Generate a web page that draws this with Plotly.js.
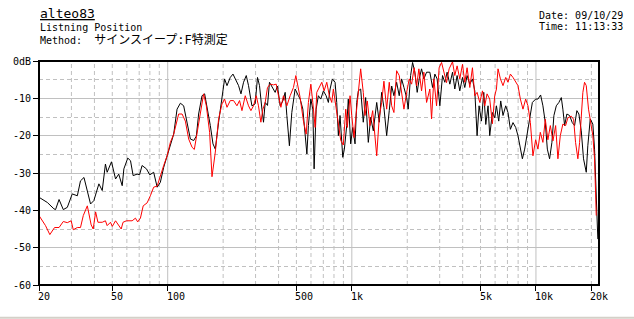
<!DOCTYPE html>
<html>
<head>
<meta charset="utf-8">
<script src="https://cdn.plot.ly/plotly-3.0.1.min.js"></script>
<style>
html,body{margin:0;padding:0;background:#fff;}
#chart{width:634px;height:319px;}
</style>
</head>
<body>
<div id="chart"></div>
<script>
// ---- data ----
const blackFreq = [20,22.2,24.1,24.6,25.7,27.1,28.5,30.3,32.3,33.6,35.1,38.1,39.7,42.3,44.1,45.9,46.9,49.5,52.1,54.2,56.6,57.8,60.7,62.8,64.9,68.2,70.3,72.6,76.7,79.9,83.9,85.7,87.7,91.2,95.1,99.3,103.4,
107.8,112.4,117.2,122.1,127.4,132.8,138.4,143.1,147.2,153.6,158.7,163.6,170.4,176.2,181.4,189.0,197.2,203.7,209.9,218.7,226.2,232.8,242.6,250.0,258.2,267.1,274.8,286.7,298.5,307.4,315.2,324.9,331.4,338.5,348.3,357.1,368.0,383.4,394.6,408.1,422.1,434.5,443.6,458.1,472.1,492.0,512.9,
524,542,558,570,581,599,614,624,640,658,678,701,725,746,762,784,811,828,845,863,893,911,938,957,986,1011,1041,1063,1085,1117,1154,1189,1229,1266,1308,1365,1409,1452,1494,1546,1597,1646,1693,1751,1809,1864,1919,1985,2024,2086,2138,2200,2265,2322,2392,2462,2547,
2653,2745,2825,2906,3006,3109,3200,3293,3406,3523,3625,3731,3858,3991,4107,4227,4373,4520,4654,4789,4911,5058,5206,5339,5494,5610,5802,5972,6101,6278,6437,6624,6852,7050,7264,7504,7762,7987,8230,8439,8685,8937,9245,9561,9963,10250,10600,10910,11240,11530,11860,12210,12520,12900,13320,13730,14000,14310,14720,15230,15750,16210,16680,17110,17620,18130,18760,19130,19720,20370,20810,21260,21680];
const blackDb = [-36.5,-37.9,-39.6,-39.8,-37.1,-39.8,-39.2,-35.6,-36.1,-32.1,-31.2,-38.3,-37.4,-32.9,-34.7,-27.6,-29.8,-27.0,-31.6,-30.3,-33.4,-28.9,-26.0,-26.7,-30.7,-30.3,-30.5,-28.0,-28.9,-30.5,-29.8,-31.6,-33.8,-32.5,-28.5,-25.4,-22.2,
-19.6,-12.9,-11.3,-12.0,-16.9,-20.9,-21.3,-20.1,-14.2,-9.3,-8.8,-12.0,-17.3,-22.2,-23.6,-16.4,-9.3,-4.8,-6.6,-4.4,-3.5,-4.8,-6.6,-8.8,-5.7,-3.9,-6.6,-12.0,-11.5,-4.4,-6.6,-12.9,-16.4,-11.1,-11.9,-5.7,-6.7,-8.4,-6.7,-12.0,-10.7,-8.4,-14.6,-22.7,-13.8,-7.5,-9.3,
-10.2,-12.9,-20.9,-24.9,-17.3,-10.2,-12.9,-28.9,-12.9,-9.3,-10.2,-8.0,-9.3,-11.1,-7.5,-4.8,-5.7,-11.1,-20.0,-14.6,-25.8,-23.6,-17.3,-10.2,-22.2,-17.8,-22.2,-11.1,-8.0,-7.5,-16.4,-9.8,-21.8,-15.1,-18.7,-11.1,-16.4,-8.4,-12.5,-20.0,-13.3,-6.7,-9.3,-5.7,-9.3,-4.8,-7.1,-9.8,-12.9,-3.9,-0.4,-3.0,-8.4,-4.8,-2.1,-4.8,-3.0,
-3.0,-7.1,-3.5,-4.8,-12.0,-3.9,-5.7,-3.0,-6.2,-3.0,-7.5,-3.9,-8.0,-4.4,-7.1,-3.9,-6.2,-4.8,-8.0,-20.0,-12.0,-16.1,-8.4,-17.0,-12.0,-20.0,-13.8,-15.2,-12.0,-16.1,-10.7,-14.6,-12.0,-13.8,-18.3,-16.5,-17.8,-20.0,-23.6,-26.2,-23.6,-19.6,-14.6,-11.1,-10.2,-10.2,-9.1,-12.0,-16.5,-23.6,-26.2,-21.8,-14.6,-12.0,-11.1,-9.8,-12.9,-17.3,-14.2,-14.6,-16.5,-17.3,-13.3,-14.2,-18.7,-26.2,-29.8,-22.7,-15.5,-16.9,-23.6,-35.2,-47.7];

const redFreq = [20,21.7,22.9,24.3,25.7,27.1,28.5,29.9,30.7,32.3,33.6,34.8,36.6,38.4,39.4,40.6,41.8,44.1,45.9,46.9,48.9,50.0,52.1,54.2,55.9,57.2,59.7,64.1,66.8,68.7,71.1,73.6,77.3,80.5,83.9,87.7,91.2,95.1,99.3,103.4,
107.8,114.7,119.7,124.7,130.0,135.6,139.5,144.3,151.7,156.7,162.1,168.9,174.0,177.5,181.4,189.0,197.2,203.7,209.9,218.7,227.9,237.7,245.6,253.1,263.7,274.8,283.1,292.4,302.6,311.2,320.6,328.9,338.5,348.3,360.3,375.4,388.4,399.6,411.8,425.4,443.6,462.4,481.9,496.5,512.9,
524,546,565,581,599,614,632,645,667,687,707,731,755,778,794,821,845,871,899,927,945,978,999,1028,1054,1085,1117,1154,1179,1213,1255,1298,1336,1365,1409,1452,1494,1546,1597,1646,1693,1751,1809,1864,1919,1985,2050,2112,2181,2248,2313,2392,2462,2547,
2653,2710,2790,2885,2980,3071,3160,3269,3377,3523,3625,3731,3858,3991,4107,4227,4373,4520,4654,4789,4953,5124,5272,5425,5610,5802,5972,6101,6223,6412,6624,6852,7050,7264,7504,7762,7987,8230,8502,8795,9051,9326,9632,9963,10250,10560,10910,11240,11610,11970,12370,12790,13160,13560,14000,14490,14910,15560,16010,16410,16890,17260,17620,17980,18360,18760,19300,19800,20370,20810,21260];
const redDb = [-41.4,-44.1,-46.5,-44.6,-44.6,-43.0,-43.3,-42.8,-45.2,-44.6,-44.6,-41.4,-38.8,-43.9,-45.0,-40.4,-43.2,-43.2,-42.8,-44.1,-43.2,-44.3,-42.8,-44.1,-45.0,-43.2,-42.8,-42.8,-42.1,-43.1,-42.1,-38.8,-38.0,-36.1,-33.8,-33.5,-30.7,-28.0,-25.4,-21.8,
-19.6,-14.2,-14.2,-16.1,-20.9,-23.1,-23.7,-19.1,-12.0,-8.8,-12.0,-19.1,-31.0,-27.6,-24.4,-15.5,-11.5,-10.2,-12.4,-10.6,-10.6,-12.0,-10.6,-13.3,-9.3,-12.0,-13.3,-12.0,-9.3,-12.0,-16.4,-12.9,-11.1,-7.1,-6.2,-6.4,-6.2,-9.3,-12.4,-9.3,-12.0,-9.3,-7.1,-3.9,-7.5,
-9.8,-16.1,-19.6,-11.1,-6.2,-11.1,-17.8,-8.4,-7.1,-5.7,-8.0,-5.7,-9.3,-11.1,-7.5,-12.9,-17.8,-21.3,-22.5,-12.9,-17.8,-9.3,-14.6,-20.5,-14.6,-7.5,-2.1,-8.4,-14.6,-10.7,-17.3,-13.3,-20.0,-25.4,-15.1,-11.1,-5.4,-12.9,-5.7,-12.0,-13.8,-2.6,-3.9,-9.3,-12.9,-8.4,-4.8,-6.2,-1.8,-6.7,-2.1,-8.0,-3.0,-11.1,
-7.5,-15.5,-4.8,-12.0,-1.8,-0.4,-2.6,-5.8,-2.1,-0.2,-3.9,-1.3,-4.8,-0.9,-5.7,-1.8,-7.1,-1.8,-9.3,-8.4,-11.1,-8.0,-12.0,-8.8,-10.2,-16.8,-9.3,-7.5,-2.1,-4.8,-6.6,-4.4,-5.7,-3.5,-4.4,-5.7,-6.6,-10.2,-12.9,-10.2,-12.0,-16.5,-25.4,-21.1,-23.6,-19.1,-21.8,-15.6,-21.1,-17.3,-21.4,-17.3,-26.2,-20.0,-16.9,-17.3,-15.2,-14.8,-15.6,-21.8,-26.2,-21.8,-13.8,-8.4,-5.7,-6.6,-12.9,-16.5,-20.0,-26.2,-41.4];

// ---- axes / labels ----
const xTickVals = [20,50,100,500,1000,5000,10000,20000];
const xTickText = ['20','50','100','500','1k','5k','10k','20k'];
const xSolidGrid = [100,1000,10000];
const xDashGrid = [30,40,50,60,70,80,90,200,300,400,500,600,700,800,900,2000,3000,4000,5000,6000,7000,8000,9000,20000];
const yTickVals = [-60,-50,-40,-30,-20,-10,0];
const yTickText = ['-60','-50','-40','-30','-20','-10','0dB'];
const yDashGrid = [-55,-45,-35,-25,-15,-5];
const xRange = [20, 22000];

const titleText = 'alteo83';
const subText1 = 'Listning Position';
const methodLabel = 'Method:  ';
const methodValue = 'サインスイープ:F特測定';
const dateText = 'Date: 09/10/29';
const timeText = 'Time: 11:13:33';

const FONT = 'DejaVu Sans Mono, Noto Sans CJK JP, monospace';
const GRID = '#c0c0c0';

const traces = [
  {x: blackFreq, y: blackDb, type: 'scatter', mode: 'lines', line: {color: '#000000', width: 1}, hoverinfo: 'skip'},
  {x: redFreq, y: redDb, type: 'scatter', mode: 'lines', line: {color: '#ff0000', width: 1}, hoverinfo: 'skip'}
];

const shapes = [];
xSolidGrid.forEach(v => shapes.push({type: 'line', xref: 'x', yref: 'paper', x0: v, x1: v, y0: 0, y1: 1, layer: 'below', line: {color: GRID, width: 1}}));
xDashGrid.forEach(v => shapes.push({type: 'line', xref: 'x', yref: 'paper', x0: v, x1: v, y0: 0, y1: 1, layer: 'below', line: {color: GRID, width: 1, dash: '4px,3px'}}));
shapes.push({type: 'rect', xref: 'paper', yref: 'paper', x0: 0, x1: 1, y0: 0, y1: 1, layer: 'above', line: {color: '#000', width: 2}});
shapes.push({type: 'line', xref: 'paper', yref: 'paper', x0: -0.08, x1: 1.07, y0: -0.1462, y1: -0.1462, layer: 'above', line: {color: '#d4d0c8', width: 2}});

const annotations = [];
xTickVals.forEach((v, i) => annotations.push({
  x: Math.log10(v), xref: 'x', y: 0, yref: 'paper', text: xTickText[i], showarrow: false,
  xanchor: 'left', yanchor: 'top', xshift: -3, yshift: -4, font: {family: FONT, size: 10, color: '#000'}
}));
annotations.push({x: 0, xref: 'paper', y: 1.214, yref: 'paper', text: titleText, showarrow: false, xanchor: 'left', yanchor: 'middle', xshift: -1,
  font: {family: FONT, size: 13, color: '#000', lineposition: 'under'}});
annotations.push({x: 0, xref: 'paper', y: 1.150, yref: 'paper', text: subText1, showarrow: false, xanchor: 'left', yanchor: 'middle', xshift: -1,
  font: {family: FONT, size: 10, color: '#000'}});
annotations.push({x: 0, xref: 'paper', y: 1.094, yref: 'paper',
  text: methodLabel + '<span style="font-size:12px">' + methodValue + '</span>', showarrow: false, xanchor: 'left', yanchor: 'middle', xshift: -1,
  font: {family: FONT, size: 10, color: '#000'}});
annotations.push({x: 0.8916, xref: 'paper', y: 1.205, yref: 'paper', text: dateText, showarrow: false, xanchor: 'left', yanchor: 'middle', xshift: -1,
  font: {family: FONT, size: 10, color: '#000'}});
annotations.push({x: 0.8916, xref: 'paper', y: 1.152, yref: 'paper', text: timeText, showarrow: false, xanchor: 'left', yanchor: 'middle', xshift: -1,
  font: {family: FONT, size: 10, color: '#000'}});

const layout = {
  width: 634, height: 319,
  margin: {l: 39, r: 35, t: 61, b: 34, pad: 0},
  paper_bgcolor: '#ffffff', plot_bgcolor: '#ffffff',
  showlegend: false,
  xaxis: {
    type: 'log', range: [Math.log10(xRange[0]), Math.log10(xRange[1])],
    tickmode: 'array', tickvals: xTickVals, showticklabels: false,
    ticks: 'outside', ticklen: 5, tickwidth: 1, tickcolor: '#000',
    showgrid: false, zeroline: false, showline: false, fixedrange: true
  },
  yaxis: {
    range: [-60, 0], tickmode: 'array', tickvals: yTickVals, ticktext: yTickText,
    ticks: 'outside', ticklen: 5, tickwidth: 1, tickcolor: '#000',
    tickfont: {family: FONT, size: 10, color: '#000'},
    showgrid: true, gridcolor: GRID, gridwidth: 1,
    minor: {tickmode: 'array', tickvals: yDashGrid, showgrid: true, gridcolor: GRID, griddash: '4px,3px', ticks: ''},
    zeroline: false, showline: false, fixedrange: true
  },
  shapes: shapes,
  annotations: annotations
};

Plotly.newPlot('chart', traces, layout, {displayModeBar: false, staticPlot: true});
</script>
</body>
</html>
